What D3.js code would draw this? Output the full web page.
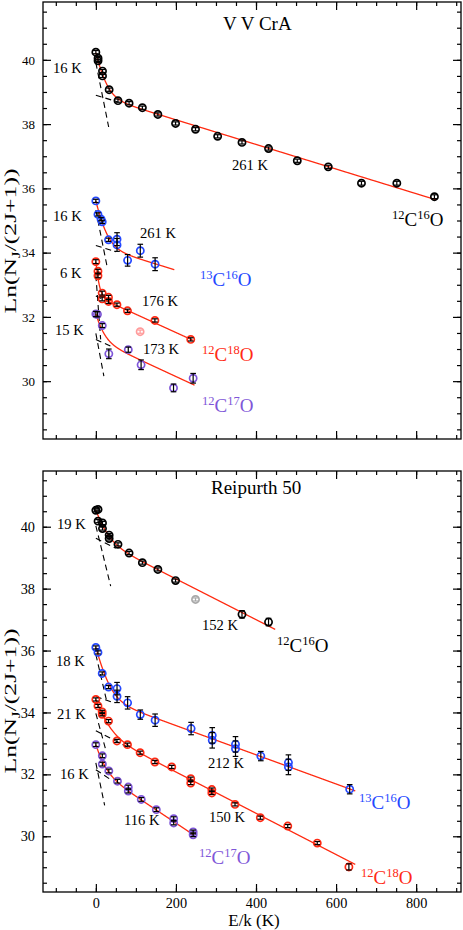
<!DOCTYPE html>
<html><head><meta charset="utf-8">
<script src="https://cdn.jsdelivr.net/npm/d3@7"></script>
<style>html,body{margin:0;padding:0;background:#fff;}svg{display:block;font-family:"Liberation Serif","Times New Roman",serif;}</style>
</head><body><svg id="c" width="463" height="930"></svg>
<script>
// ---------- data ----------
const xTickValues = [0, 200, 400, 600, 800];
const yTickValues = [30, 32, 34, 36, 38, 40];
const xDomain = [-132, 912];
const yDomain = [28.2, 41.8];

// V V CrA : [E/k, ln(N/(2J+1)), error]
const vv_12C16O = [[0,40.24,.05],[5.5,40.05,.05],[5.5,39.97,.05],[16.6,39.65,.05],[16.6,39.50,.05],[33.2,39.07,.05],[55.3,38.73,.05],[83,38.65,.05],[116.2,38.51,.05],[154.9,38.30,.05],[199.1,38.02,.05],[248.9,37.84,.05],[304.2,37.62,.05],[365,37.43,.05],[431.3,37.24,.05],[503.1,36.86,.05],[580.5,36.67,.05],[663.4,36.16,.06],[751.7,36.16,.06],[845.6,35.74,.06]];
const vv_13C16O = [[0,35.61,.05],[5.3,35.19,.05],[13,35.04,.05],[15.9,34.96,.05],[31.7,34.40,.05],[52.9,34.42,.2],[52.9,34.24,.2],[79.3,33.76,.18],[111,34.06,.2],[148,33.64,.2]];
const vv_12C18O = [[0,33.72,.06],[5.3,33.42,.06],[5.3,33.28,.06],[15.8,32.74,.06],[15.8,32.56,.06],[31.6,32.61,.06],[31.6,32.48,.06],[52.7,32.38,.05],[79,32.19,.05],[147.5,31.89,.05],[237,31.30,.05]];
const vv_12C18O_out = [[110.6,31.54,.05]];
const vv_12C17O = [[0,32.09,.08],[4,32.08,.08],[16,31.73,.06],[32.4,30.85,.15],[81,30.98,.08],[113,30.51,.15],[194,29.79,.12],[243,30.09,.15]];

// Reipurth 50
const re_12C16O = [[0,40.53,.05],[5.5,40.56,.05],[5.5,40.18,.05],[16.6,40.12,.05],[16.6,39.94,.05],[33.2,39.73,.05],[33.2,39.62,.05],[55.3,39.43,.05],[83,39.15,.05],[116.2,38.84,.05],[154.9,38.62,.05],[199.1,38.26,.05],[365,37.17,.12],[431.3,36.92,.12]];
const re_12C16O_out = [[248.9,37.65,.05]];
const re_13C16O = [[0,36.10,.05],[5.3,35.94,.05],[15.9,35.26,.05],[31.7,34.82,.05],[52.9,34.77,.2],[52.9,34.52,.2],[79.3,34.31,.2],[111,33.93,.15],[148,33.75,.2],[237.9,33.48,.2],[290.7,33.26,.25],[290.7,33.10,.25],[348.8,32.97,.25],[348.8,32.83,.25],[412,32.59,.15],[481,32.38,.25],[481,32.24,.25],[634,31.52,.15]];
const re_12C18O = [[0,34.42,.05],[5.3,34.21,.05],[15.8,34.02,.05],[15.8,33.94,.05],[31.6,33.72,.05],[52.7,33.08,.05],[79,32.96,.05],[110.6,32.70,.05],[147.5,32.40,.05],[189.6,32.24,.05],[237,31.86,.05],[237,31.72,.05],[289.7,31.51,.05],[289.7,31.40,.05],[347.6,31.03,.05],[410.8,30.60,.05],[479.3,30.33,.05],[553,29.78,.05],[632,29.01,.1]];
const re_12C17O = [[0,32.96,.06],[16.2,32.60,.06],[16.2,32.33,.06],[32.4,32.11,.06],[54,31.78,.06],[81,31.59,.06],[81,31.46,.06],[113.4,31.19,.06],[151,30.86,.06],[194.4,30.57,.06],[194.4,30.43,.06],[243,30.14,.06],[243,30.05,.06]];

// two-temperature fits: [Tcold, ln0 cold, Twarm, ln0 warm, Emax, coldDashEnd, warmDashEnd]
const vv_fit_12C16O = [16, 39.91, 261, 38.90, 850, 32, 55];
const vv_fit_13C16O = [16, 35.32, 261, 34.22, 196, 28, 50];
const vv_fit_12C18O = [6, 33.30, 176, 32.65, 242, 12, 40];
const vv_fit_12C17O = [15, 31.49, 173, 31.30, 246.5, 20, 45];
const re_fit_12C16O = [19, 40.03, 152, 39.63, 448, 37, 50];
const re_fit_13C16O = [18, 35.87, 212, 34.52, 648, 28, 45];
const re_fit_12C18O = [21, 33.97, 150, 33.41, 648, 24, 85];
const re_fit_12C17O = [16, 32.37, 116, 32.15, 244, 22, 40];

const colors = {k:"#000000", b:"#2448ff", r:"#ff2a14", p:"#7e56d8", pink:"#ff9c9c", gray:"#a8a8a8", fit:"#ff2a10"};

// ---------- layout ----------
const svg = d3.select("#c");
const W = {left:43, right:461};
const panels = [
  {top:2, bottom:439, tickFont:13, showX:false,
   series:[[vv_12C16O,"k"],[vv_13C16O,"b"],[vv_12C18O,"r"],[vv_12C18O_out,"pink"],[vv_12C17O,"p"]],
   fits:[vv_fit_12C16O,vv_fit_13C16O,vv_fit_12C18O,vv_fit_12C17O],
   ylab:241,
   texts:[
     {t:"V V CrA",x:223,y:30,s:19},
     {t:"16 K",x:53,y:73},{t:"261 K",x:232,y:170},
     {sp:["12","C","16","O"],x:392,y:226,c:"k"},
     {t:"16 K",x:53,y:221},{t:"261 K",x:140,y:238},
     {sp:["13","C","16","O"],x:200,y:286,c:"b"},
     {t:"6 K",x:60,y:278},{t:"176 K",x:142,y:306},
     {sp:["12","C","18","O"],x:202,y:361,c:"r"},
     {t:"15 K",x:55,y:335},{t:"173 K",x:143,y:354},
     {sp:["12","C","17","O"],x:202,y:412,c:"p"}
   ]},
  {top:471, bottom:892, tickFont:14.3, showX:true,
   series:[[re_12C16O,"k"],[re_12C16O_out,"gray"],[re_13C16O,"b"],[re_12C18O,"r"],[re_12C17O,"p"]],
   fits:[re_fit_12C16O,re_fit_13C16O,re_fit_12C18O,re_fit_12C17O],
   ylab:701,
   texts:[
     {t:"Reipurth 50",x:211,y:494,s:19},
     {t:"19 K",x:57,y:529},{t:"152 K",x:202,y:630},
     {sp:["12","C","16","O"],x:277,y:652,c:"k"},
     {t:"18 K",x:56,y:666},{t:"21 K",x:57,y:719},{t:"16 K",x:60,y:779},
     {t:"212 K",x:208,y:768},{t:"150 K",x:209,y:822},{t:"116 K",x:124,y:825},
     {sp:["13","C","16","O"],x:359,y:809,c:"b"},
     {sp:["12","C","17","O"],x:199,y:864,c:"p"},
     {sp:["12","C","18","O"],x:361,y:884,c:"r"}
   ]}
];

const x = d3.scaleLinear().domain(xDomain).range([W.left, W.right]);
const minorX = d3.range(-100, 901, 50);
const minorY = d3.range(28.5, 41.8, 0.5);

panels.forEach(p => {
  const y = d3.scaleLinear().domain(yDomain).range([p.bottom, p.top]);
  const g = svg.append("g");
  const clipId = "clip" + p.top;
  svg.append("clipPath").attr("id", clipId).append("rect")
    .attr("x", W.left).attr("y", p.top).attr("width", W.right - W.left).attr("height", p.bottom - p.top);

  // ticks (inside)
  const mk = (axis, tx, ty, vals, size) => {
    const a = g.append("g").attr("transform", `translate(${tx},${ty})`)
      .call(axis.tickValues(vals).tickSizeInner(size).tickSizeOuter(0).tickFormat(""));
    a.select(".domain").remove();
    a.selectAll("line").attr("stroke", "#000").attr("stroke-width", 1.2);
  };
  mk(d3.axisLeft(y), W.left, 0, minorY, -4);
  mk(d3.axisLeft(y), W.left, 0, yTickValues, -8);
  mk(d3.axisRight(y), W.right, 0, minorY, -4);
  mk(d3.axisRight(y), W.right, 0, yTickValues, -8);
  mk(d3.axisBottom(x), 0, p.bottom, minorX, -4);
  mk(d3.axisBottom(x), 0, p.bottom, xTickValues, -8);
  mk(d3.axisTop(x), 0, p.top, minorX, -4);
  mk(d3.axisTop(x), 0, p.top, xTickValues, -8);

  // tick labels
  const yl = g.append("g").attr("transform", `translate(${W.left},0)`)
    .call(d3.axisLeft(y).tickValues(yTickValues).tickSize(0).tickPadding(8).tickFormat(d3.format("d")));
  yl.select(".domain").remove();
  yl.selectAll("text").attr("font-size", p.tickFont).attr("font-family", "Liberation Serif").attr("fill", "#000");
  if (p.showX) {
    const xl = g.append("g").attr("transform", `translate(0,${p.bottom})`)
      .call(d3.axisBottom(x).tickValues(xTickValues).tickSize(0).tickPadding(6).tickFormat(d3.format("d")));
    xl.select(".domain").remove();
    xl.selectAll("text").attr("font-size", 14.3).attr("font-family", "Liberation Serif").attr("fill", "#000");
  }

  // frame
  g.append("rect").attr("x", W.left).attr("y", p.top).attr("width", W.right - W.left).attr("height", p.bottom - p.top)
    .attr("fill", "none").attr("stroke", "#000").attr("stroke-width", 1.3);

  const plot = g.append("g").attr("clip-path", `url(#${clipId})`);
  const line = d3.line().x(d => x(d[0])).y(d => y(d[1]));

  // fit components (dashed) and total (red)
  p.fits.forEach(f => {
    const [Tc, cc, Tw, cw, Emax, dc, dw] = f;
    plot.append("path").attr("d", line([[0, cc], [dc, cc - dc / Tc]]))
      .attr("fill", "none").attr("stroke", "#000").attr("stroke-width", 1.1).attr("stroke-dasharray", "6,4");
    plot.append("path").attr("d", line([[0, cw], [dw, cw - dw / Tw]]))
      .attr("fill", "none").attr("stroke", "#000").attr("stroke-width", 1.1).attr("stroke-dasharray", "6,4");
    const pts = d3.range(0, Emax, 0.5).concat([Emax]).map(E => [E, Math.log(Math.exp(cc - E / Tc) + Math.exp(cw - E / Tw))]);
    plot.append("path").attr("d", line(pts)).attr("fill", "none").attr("stroke", colors.fit).attr("stroke-width", 1.3);
  });

  // points with error bars
  p.series.forEach(([data, ck]) => {
    const sg = plot.append("g");
    sg.selectAll("circle").data(data).join("circle")
      .attr("cx", d => x(d[0])).attr("cy", d => y(d[1])).attr("r", 3.6)
      .attr("fill", "none").attr("stroke", colors[ck]).attr("stroke-width", 1.7);
    const eb = ck === "pink" ? colors.pink : (ck === "gray" ? colors.gray : "#000");
    data.forEach(d => {
      const cx = x(d[0]), y1 = y(d[1] + d[2]), y2 = y(d[1] - d[2]);
      sg.append("line").attr("x1", cx).attr("x2", cx).attr("y1", y1).attr("y2", y2).attr("stroke", eb).attr("stroke-width", 1.2);
      [y1, y2].forEach(yy => sg.append("line").attr("x1", cx - 2.8).attr("x2", cx + 2.8).attr("y1", yy).attr("y2", yy).attr("stroke", eb).attr("stroke-width", 1.2));
    });
  });

  // annotations
  p.texts.forEach(t => {
    if (t.sp) {
      const tx = g.append("text").attr("x", t.x).attr("y", t.y).attr("fill", colors[t.c]);
      tx.append("tspan").attr("font-size", 12.5).attr("dy", -7).text(t.sp[0]);
      tx.append("tspan").attr("font-size", 19).attr("dy", 7).text(t.sp[1]);
      tx.append("tspan").attr("font-size", 12.5).attr("dy", -7).text(t.sp[2]);
      tx.append("tspan").attr("font-size", 19).attr("dy", 7).text(t.sp[3]);
    } else {
      g.append("text").attr("x", t.x).attr("y", t.y).attr("font-size", t.s || 14.6).attr("fill", "#000").text(t.t);
    }
  });

  // y label
  const ylab = g.append("text").attr("transform", `translate(16,${p.ylab}) rotate(-90)`)
    .attr("text-anchor", "middle").attr("font-size", 17.5).attr("fill", "#000")
    .attr("textLength", 145).attr("lengthAdjust", "spacingAndGlyphs");
  ylab.append("tspan").text("Ln(N");
  ylab.append("tspan").attr("font-size", 11.5).attr("dy", 4).text("J");
  ylab.append("tspan").attr("dy", -4).text("/(2J+1))");
});

svg.append("text").attr("x", 254).attr("y", 926).attr("text-anchor", "middle")
  .attr("font-size", 17).attr("fill", "#000").text("E/k (K)");
</script></body></html>
